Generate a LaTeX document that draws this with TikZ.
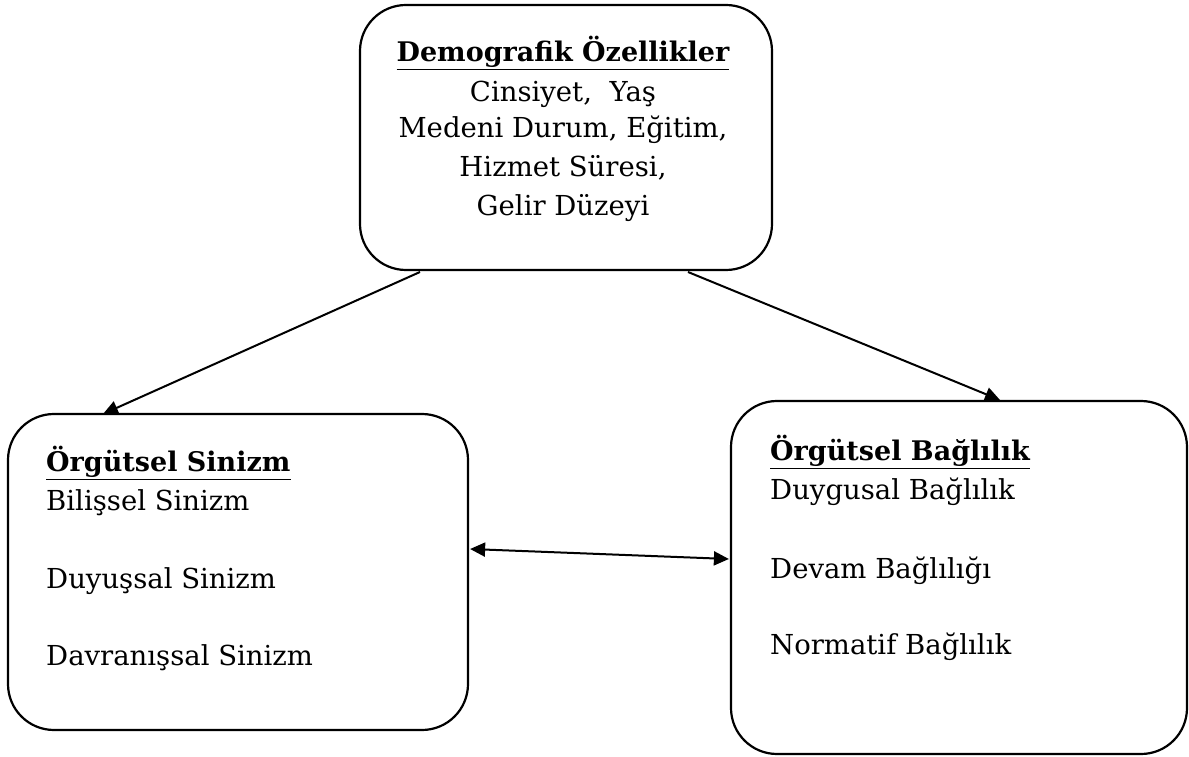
\documentclass[tikz,border=0pt]{standalone}
\usepackage{fontspec}
\setmainfont{DejaVu Serif}
\usetikzlibrary{arrows.meta}
\newcommand{\ul}[1]{\underline{#1}}
\begin{document}
\begin{tikzpicture}[x=1pt,y=1pt,
  box/.style={draw,line width=2.2pt,rounded corners=46pt,inner sep=0pt},
  txt/.style={anchor=base west,inner sep=0pt,font=\fontsize{27.5}{32}\selectfont},
  ctxt/.style={anchor=base,inner sep=0pt,font=\fontsize{27.5}{32}\selectfont},
  head/.style={font=\fontsize{27}{32}\selectfont\bfseries},
  conn/.style={line width=2pt,-{Triangle[length=15pt,width=14pt]}},
  dconn/.style={line width=2pt,{Triangle[length=15pt,width=14pt]}-{Triangle[length=15pt,width=14pt]}}]
\useasboundingbox (0,0) rectangle (1189,756);
\node[box,minimum width=412pt,minimum height=265pt] (top) at (566,618.5) {};
\node[box,minimum width=460pt,minimum height=316pt] (left) at (238,184) {};
\node[box,minimum width=456pt,minimum height=353pt] (right) at (959,178.5) {};
% top texts
\node[ctxt,head] (t0) at (563,694) {\ul{Demografik Özellikler}};
\node[ctxt] (t1) at (563,654) {Cinsiyet,\ \ Yaş};
\node[ctxt] (t2) at (563,618) {Medeni Durum, Eğitim,};
\node[ctxt] (t3) at (563,579) {Hizmet Süresi,};
\node[ctxt] (t4) at (563,540) {Gelir Düzeyi};
% left texts
\node[txt,head] (l0) at (46,284) {\ul{Örgütsel Sinizm}};
\node[txt] (l1) at (46,246) {Bilişsel Sinizm};
\node[txt] (l2) at (46,168) {Duyuşsal Sinizm};
\node[txt] (l3) at (46,91) {Davranışsal Sinizm};
% right texts
\node[txt,head] (r0) at (770,295) {\ul{Örgütsel Bağlılık}};
\node[txt] (r1) at (770,257) {Duygusal Bağlılık};
\node[txt] (r2) at (770,178) {Devam Bağlılığı};
\node[txt] (r3) at (770,102) {Normatif Bağlılık};
% connectors
\coordinate (a1s) at (420,484);
\coordinate (a1e) at (103,342);
\coordinate (a2s) at (688,484);
\coordinate (a2e) at (1000,356);
\coordinate (a3s) at ([xshift=1pt]left.east |- 0,207);
\coordinate (a3e) at ([xshift=-1pt]right.west |- 0,197);
\draw[conn] (a1s) -- (a1e);
\draw[conn] (a2s) -- (a2e);
\draw[dconn] (a3s) -- (a3e);
\end{tikzpicture}
\end{document}
